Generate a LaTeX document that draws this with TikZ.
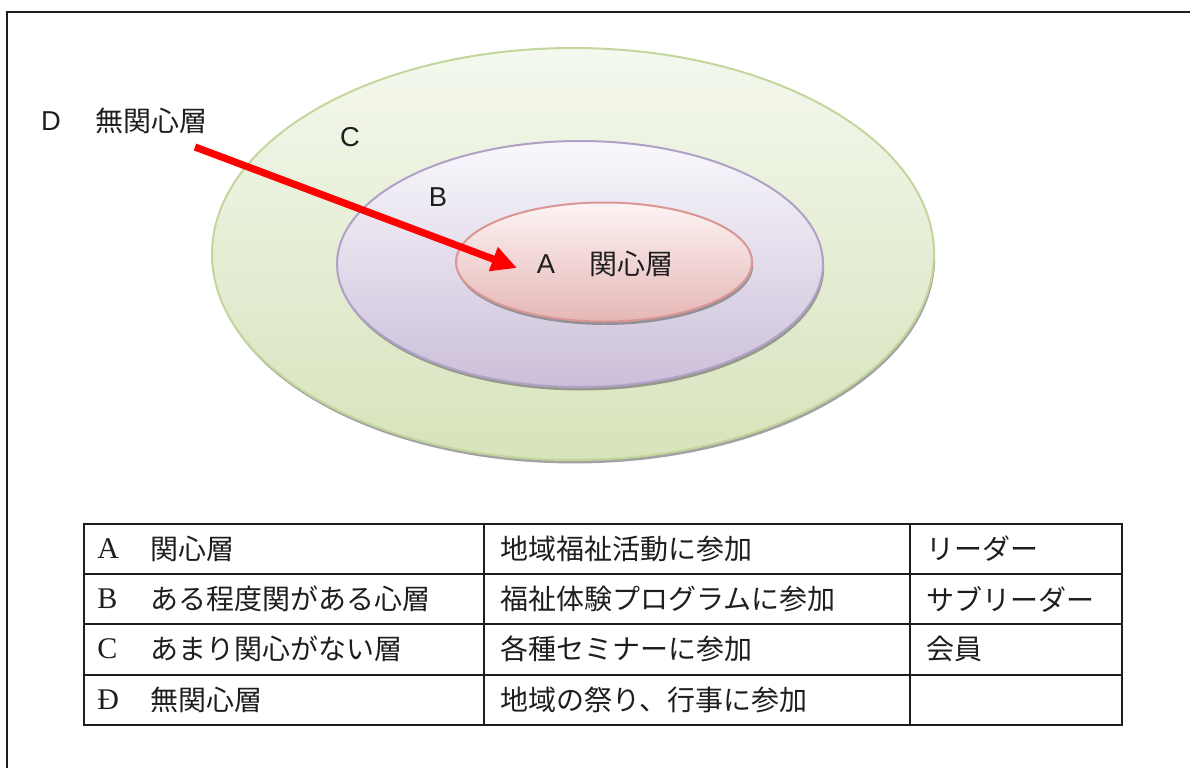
\documentclass[tikz,border=0pt]{standalone}
\usepackage{fontspec}
\newfontfamily\cjk{Noto Sans CJK JP}
\newfontfamily\lsans{Liberation Sans}
\newfontfamily\lserif{Liberation Serif}
\usetikzlibrary{shapes.geometric,arrows.meta,shadows}
\definecolor{gTop}{HTML}{F4F8EE}
\definecolor{gBot}{HTML}{D7E3BB}
\definecolor{gLine}{HTML}{C3D69B}
\definecolor{pTop}{HTML}{F9F8FC}
\definecolor{pBot}{HTML}{CBBFD9}
\definecolor{pLine}{HTML}{B2A1C7}
\definecolor{rTop}{HTML}{FDF3F3}
\definecolor{rBot}{HTML}{E5B7B6}
\definecolor{rLine}{HTML}{D99694}
\definecolor{ink}{HTML}{1E1E1E}
\tikzset{
  layer/.style={ellipse, inner sep=0pt, line width=1.5pt,
    drop shadow={shadow xshift=0.9pt, shadow yshift=-2.6pt, fill=black!60, opacity=0.6}},
  lat/.style={text=ink, inner sep=0pt, font=\lsans\fontsize{20.5}{24}\selectfont},
  jlab/.style={text=ink, inner sep=0pt, font=\cjk\fontsize{21}{25}\selectfont},
  tlat/.style={text=ink, inner sep=0pt, anchor=west, font=\lserif\fontsize{22.5}{26}\selectfont},
  tcell/.style={text=ink, inner sep=0pt, anchor=west, font=\cjk\fontsize{21}{25}\selectfont},
  rule/.style={line width=1.6pt, draw=ink}
}
\begin{document}
\begin{tikzpicture}[x=0.75pt,y=-0.75pt]
\useasboundingbox (0,0) rectangle (1190,768);
% frame
\draw[line width=1.3pt, draw=ink] (7,768) -- (7,12) -- (1190,12);
% layers
\node[layer, draw=gLine, top color=gTop, bottom color=gBot,
  minimum width=541.5pt, minimum height=309pt] (C) at (573,254) {};
\node[layer, draw=pLine, top color=pTop, bottom color=pBot,
  minimum width=364.5pt, minimum height=184.5pt] (B) at (580,264) {};
\node[layer, draw=rLine, top color=rTop, bottom color=rBot,
  minimum width=222pt, minimum height=89.25pt] (A) at (604,262) {};
% labels
\node[lat] (dL) at (51,121) {D};
\node[jlab] (dJ) at (151,121) {無関心層};
\node[lat] (cL) at (350,137) {C};
\node[lat] (bL) at (438,197) {B};
\node[lat] (aL) at (546,264) {A};
\node[jlab] (aJ) at (631,264) {関心層};
% arrow
\coordinate (arrS) at (195,147);
\coordinate (arrE) at (517,268);
\draw[red, line width=5.4pt, -{Triangle[length=19pt,width=18pt]}] (arrS) -- (arrE);
% table
\draw[rule] (84,524) rectangle (1122,725);
\draw[rule] (84,574) -- (1122,574);
\draw[rule] (84,624) -- (1122,624);
\draw[rule] (84,675) -- (1122,675);
\draw[rule] (484,524) -- (484,725);
\draw[rule] (910,524) -- (910,725);
\node[tlat] (t1a) at (97,549) {A};
\node[tcell] (t1b) at (150,549) {関心層};
\node[tcell] (t1c) at (500,549) {地域福祉活動に参加};
\node[tcell] (t1d) at (926,549) {リーダー};
\node[tlat] (t2a) at (97,599) {B};
\node[tcell] (t2b) at (150,599) {ある程度関がある心層};
\node[tcell] (t2c) at (500,599) {福祉体験プログラムに参加};
\node[tcell] (t2d) at (926,599) {サブリーダー};
\node[tlat] (t3a) at (97,649) {C};
\node[tcell] (t3b) at (150,649) {あまり関心がない層};
\node[tcell] (t3c) at (500,649) {各種セミナーに参加};
\node[tcell] (t3d) at (926,649) {会員};
\node[tlat] (t4a) at (97,700) {Đ};
\node[tcell] (t4b) at (150,700) {無関心層};
\node[tcell] (t4c) at (500,700) {地域の祭り、行事に参加};
\end{tikzpicture}
\end{document}
